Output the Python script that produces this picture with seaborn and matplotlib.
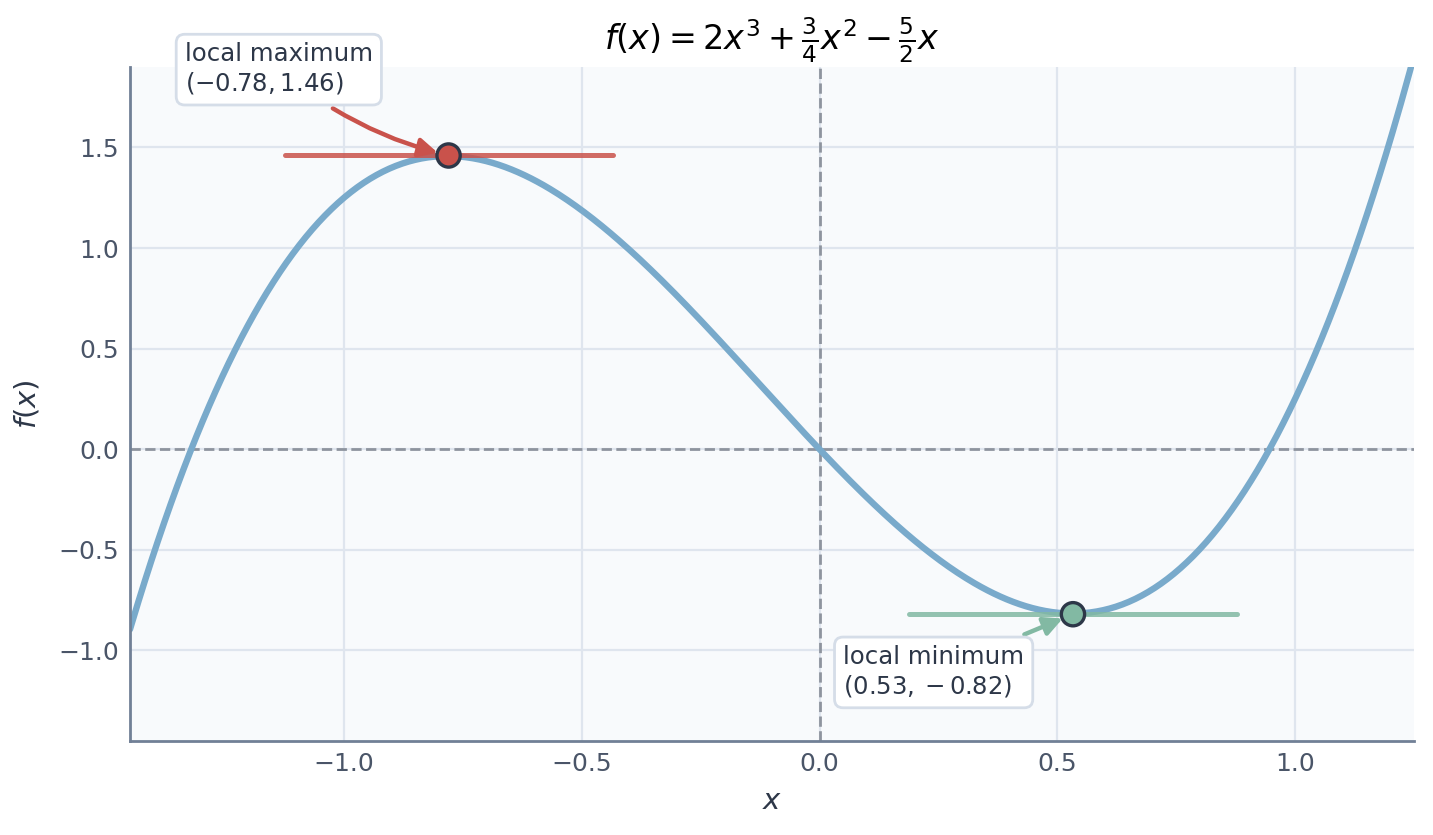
import numpy as np
import pandas as pd
import matplotlib.pyplot as plt
import seaborn as sns

# polynomial coefficients, highest power first: 2x^3 + 3/4 x^2 - 5/2 x
coefs = [2.0, 0.75, -2.5, 0.0]
x_range = [-1.45, 1.25]
y_range = [-1.45, 1.90]

# critical points as labelled on the chart
max_pt = (-0.78, 1.46)
min_pt = (0.533, -0.82)
tangent_half = 0.345

x = np.linspace(x_range[0], x_range[1], 600)
df = pd.DataFrame({"x": x, "y": np.polyval(coefs, x)})
pts = pd.DataFrame({"x": [max_pt[0], min_pt[0]], "y": [max_pt[1], min_pt[1]],
                    "kind": ["max", "min"]})

blue = "#79aacb"
red = "#c9524b"
green = "#82b9a3"
ink = "#2d3748"
spine = "#718096"

sns.set_theme(style="whitegrid")
plt.rcParams["font.family"] = ["DejaVu Sans"]

fig = plt.figure(figsize=(7.165, 4.175), dpi=200)
ax = fig.add_axes([0.0907, 0.1126, 0.896, 0.8072])
ax.set_facecolor("#f8fafc")
ax.grid(True, color="#dfe5ee", linewidth=0.8)

ax.axhline(0, color="#8e949e", linestyle="--", linewidth=1.0, zorder=1)
ax.axvline(0, color="#8e949e", linestyle="--", linewidth=1.0, zorder=1)

sns.lineplot(data=df, x="x", y="y", ax=ax, color=blue, linewidth=2.3, zorder=2)

# horizontal tangents at the extrema
ax.plot([max_pt[0] - tangent_half, max_pt[0] + tangent_half], [max_pt[1]] * 2,
        color=red, linewidth=1.8, alpha=0.85, zorder=3)
ax.plot([min_pt[0] - tangent_half, min_pt[0] + tangent_half], [min_pt[1]] * 2,
        color=green, linewidth=1.8, alpha=0.85, zorder=3)

sns.scatterplot(data=pts, x="x", y="y", hue="kind", palette={"max": red, "min": green},
                s=70, edgecolor=ink, linewidth=1.2, legend=False, ax=ax, zorder=4)

box = dict(boxstyle="round,pad=0.35", fc="white", ec="#d5dde8", lw=1.0)
ax.annotate("local maximum\n$(-0.78, 1.46)$", xy=max_pt, xytext=(-1.137, 1.888),
            ha="center", va="center", multialignment="left", fontsize=8.8, color=ink,
            bbox=box, annotation_clip=False,
            arrowprops=dict(arrowstyle="-|>", color=red, lw=1.6, mutation_scale=14,
                            shrinkB=4, connectionstyle="arc3,rad=0.12"))
ax.annotate("local minimum\n$(0.53, -0.82)$", xy=min_pt, xytext=(0.24, -1.108),
            ha="center", va="center", multialignment="left", fontsize=8.8, color=ink,
            bbox=box, annotation_clip=False,
            arrowprops=dict(arrowstyle="-|>", color=green, lw=1.6, mutation_scale=14,
                            shrinkB=4))

ax.set_xlim(x_range)
ax.set_ylim(y_range)
ax.set_xticks([-1.0, -0.5, 0.0, 0.5, 1.0])
ax.set_yticks([-1.0, -0.5, 0.0, 0.5, 1.0, 1.5])
ax.tick_params(length=0, labelsize=9, labelcolor="#4a5568", pad=4)
for side in ["top", "right"]:
    ax.spines[side].set_visible(False)
for side in ["left", "bottom"]:
    ax.spines[side].set_color(spine)
    ax.spines[side].set_linewidth(1.0)

ax.set_xlabel("$x$", fontsize=10.5, color=ink, labelpad=4)
ax.set_ylabel("$f(x)$", fontsize=10.5, color=ink, labelpad=6)
ax.set_title(r"$f(x) = 2x^3 + \frac{3}{4}x^2 - \frac{5}{2}x$", fontsize=12, color="black", pad=6)

fig.savefig("out.png", dpi=200)
